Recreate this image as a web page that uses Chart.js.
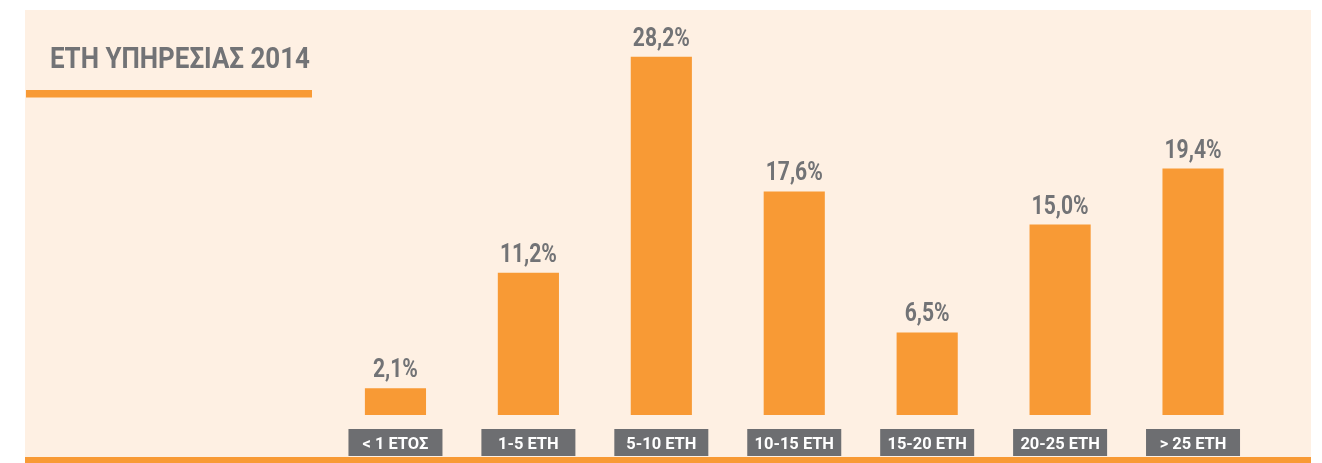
<!DOCTYPE html>
<html>
<head>
<meta charset="utf-8">
<script src="https://cdn.jsdelivr.net/npm/chart.js@4.4.0/dist/chart.umd.min.js"></script>
<style>
html,body{margin:0;padding:0;background:#fff;}
#wrap{width:1322px;height:463px;position:relative;}
</style>
</head>
<body>
<div id="wrap"><canvas id="c" width="1322" height="463"></canvas></div>
<script>
const titleText = "ΕΤΗ ΥΠΗΡΕΣΙΑΣ 2014";
const categories = ["< 1 ΕΤΟΣ", "1-5 ΕΤΗ", "5-10 ΕΤΗ", "10-15 ΕΤΗ", "15-20 ΕΤΗ", "20-25 ΕΤΗ", "> 25 ΕΤΗ"];
const values = [2.1, 11.2, 28.2, 17.6, 6.5, 15.0, 19.4];
const valueLabels = ["2,1%", "11,2%", "28,2%", "17,6%", "6,5%", "15,0%", "19,4%"];

const FONT = 'Roboto, "DejaVu Sans Condensed", sans-serif';
const ORANGE = '#F89A35';
const GRAY = '#727376';
const BOX = '#6D6E71';
const PANEL = '#FEF0E3';

function squeezeFactor(ctx, font, sample, target) {
  ctx.save();
  ctx.font = font;
  const w = ctx.measureText(sample).width;
  ctx.restore();
  return Math.min(1, target / w);
}
function drawText(ctx, text, x, y, font, color, align, sx) {
  ctx.save();
  ctx.font = font;
  ctx.fillStyle = color;
  ctx.textAlign = align;
  ctx.textBaseline = 'alphabetic';
  ctx.translate(x, y);
  ctx.scale(sx, 1);
  ctx.fillText(text, 0, 0);
  ctx.restore();
}

const decor = {
  id: 'decor',
  beforeDraw(chart) {
    const ctx = chart.ctx;
    ctx.save();
    ctx.fillStyle = '#ffffff';
    ctx.fillRect(0, 0, chart.width, chart.height);
    ctx.fillStyle = PANEL;
    ctx.fillRect(25, 10, 1286, 447);
    ctx.fillStyle = ORANGE;
    ctx.fillRect(25, 457, 1286, 6);
    ctx.fillRect(26, 90, 286, 7.5);
    ctx.restore();
    const tf = 'bold 29.5px ' + FONT;
    const s = squeezeFactor(ctx, tf, titleText, 260);
    drawText(ctx, titleText, 50, 68, tf, GRAY, 'left', s);
  },
  afterDatasetsDraw(chart) {
    const ctx = chart.ctx;
    const xs = chart.scales.x;
    const meta = chart.getDatasetMeta(0);
    const lf = 'bold 17px ' + FONT;
    const ls = squeezeFactor(ctx, lf, categories[2], 70);
    categories.forEach((lab, i) => {
      const cx = xs.getPixelForTick(i);
      ctx.save();
      ctx.fillStyle = BOX;
      ctx.fillRect(cx - 47, 429, 94, 27);
      ctx.restore();
      drawText(ctx, lab, cx, 449, lf, '#ffffff', 'center', ls);
    });
    const vf = 'bold 25px ' + FONT;
    const vs = squeezeFactor(ctx, vf, valueLabels[2], 57);
    meta.data.forEach((bar, i) => {
      drawText(ctx, valueLabels[i], bar.x, bar.y - 11, vf, GRAY, 'center', vs);
    });
  }
};

new Chart(document.getElementById('c'), {
  type: 'bar',
  data: {
    labels: categories,
    datasets: [{
      data: values,
      backgroundColor: ORANGE,
      borderWidth: 0,
      barPercentage: 0.46,
      categoryPercentage: 1.0
    }]
  },
  options: {
    responsive: false,
    animation: false,
    devicePixelRatio: 1,
    layout: { padding: { left: 329, right: 62.5, top: 34, bottom: 48 } },
    plugins: { legend: { display: false }, tooltip: { enabled: false }, title: { display: false } },
    scales: {
      x: { display: false },
      y: { display: false, min: 0, max: 30 }
    }
  },
  plugins: [decor]
});
</script>
</body>
</html>
